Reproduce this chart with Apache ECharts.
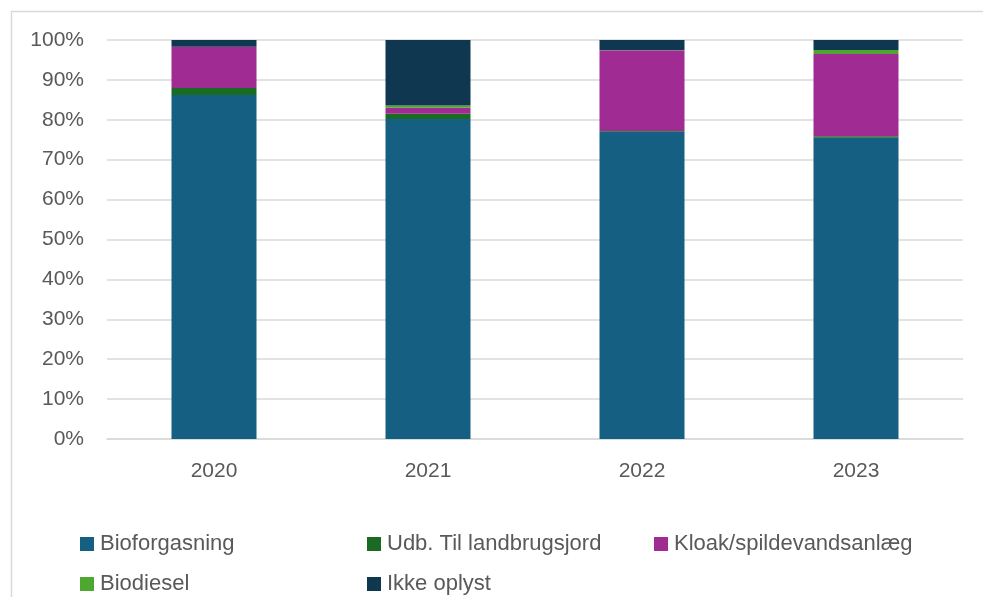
<!DOCTYPE html>
<html>
<head>
<meta charset="utf-8">
<script src="https://cdn.jsdelivr.net/npm/echarts@6/dist/echarts.min.js"></script>
<style>html,body{margin:0;padding:0;background:#fff}#c{width:983px;height:597px}</style>
</head>
<body>
<div id="c"></div>
<script>
const years = ['2020', '2021', '2022', '2023'];
const seriesNames = ['Bioforgasning', 'Udb. Til landbrugsjord', 'Kloak/spildevandsanlæg', 'Biodiesel', 'Ikke oplyst'];
const bioforgasning = [86.2, 80.2, 77.0, 75.5];
const udbLandbrug = [1.8, 1.3, 0.2, 0.4];
const kloak = [10.3, 1.5, 20.2, 20.6];
const biodiesel = [0.0, 0.6, 0.1, 1.0];
const ikkeOplyst = [1.7, 16.4, 2.5, 2.5];
const yTicks = [0, 10, 20, 30, 40, 50, 60, 70, 80, 90, 100];

const colors = ['#156082', '#196B24', '#A02B93', '#4EA72E', '#0F3850'];
const values = [bioforgasning, udbLandbrug, kloak, biodiesel, ikkeOplyst];
const FONT = '"Liberation Sans", Arial, sans-serif';

const legendPos = [
  {left: 80, top: 533}, {left: 367, top: 533}, {left: 654, top: 533},
  {left: 80, top: 573}, {left: 367, top: 573}
];

const chart = echarts.init(document.getElementById('c'), null, {renderer: 'canvas'});
chart.setOption({
  animation: false,
  backgroundColor: '#fff',
  graphic: [{
    type: 'rect', silent: true,
    shape: {x: 11.5, y: 11.5, width: 1100, height: 700},
    style: {fill: 'none', stroke: '#d9d9d9', lineWidth: 1.5}
  }],
  grid: {left: 107, right: 20, top: 40, bottom: 158},
  legend: seriesNames.map((n, i) => ({
    data: [n], left: legendPos[i].left, top: legendPos[i].top,
    itemWidth: 14, itemHeight: 14, itemGap: 0, padding: 0,
    icon: 'rect',
    textStyle: {fontFamily: FONT, fontSize: 22, color: '#595959', padding: [0, 0, 0, 1]}
  })),
  xAxis: {
    type: 'category', data: years,
    axisLine: {lineStyle: {color: '#d9d9d9', width: 1.5}},
    axisTick: {show: false},
    axisLabel: {fontFamily: FONT, fontSize: 21, color: '#595959', margin: 22}
  },
  yAxis: {
    type: 'value', min: 0, max: 100, interval: 10,
    axisLine: {show: false}, axisTick: {show: false},
    splitLine: {lineStyle: {color: '#d9d9d9', width: 1.5}},
    axisLabel: {
      fontFamily: FONT, fontSize: 21, color: '#595959', margin: 23,
      padding: [4, 0, 0, 0],
      formatter: v => yTicks.includes(v) ? v + '%' : ''
    }
  },
  series: seriesNames.map((n, i) => ({
    name: n, type: 'bar', stack: 'total', barWidth: 85,
    itemStyle: {color: colors[i]},
    data: values[i]
  }))
});
</script>
</body>
</html>
